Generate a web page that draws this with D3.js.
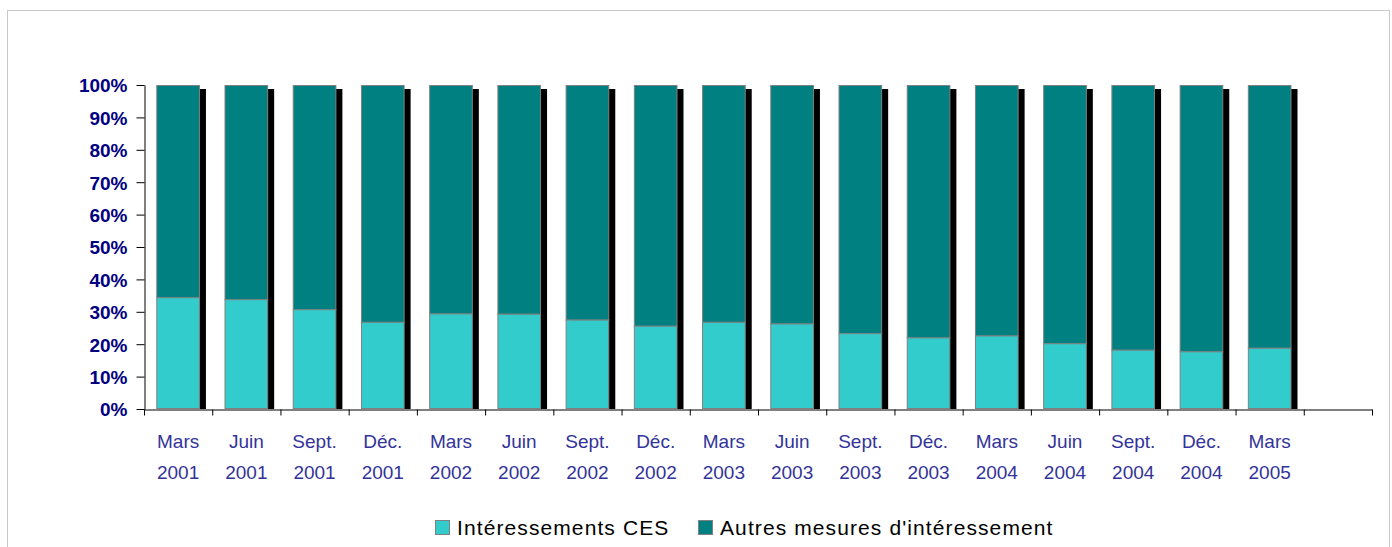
<!DOCTYPE html>
<html>
<head>
<meta charset="utf-8">
<script src="https://cdn.jsdelivr.net/npm/d3@7"></script>
<style>
  body { margin: 0; background: #fff; }
  svg { display: block; font-family: "Liberation Sans", Arial, sans-serif; }
  .y-axis text { fill: #000080; font-weight: bold; font-size: 19px; }
  .axis path, .axis line { stroke: #000; }
  .xlab { fill: #333399; font-size: 19px; }
  .legend text { fill: #000; font-size: 21px; letter-spacing: 1.1px; }
</style>
</head>
<body>
<div id="chart"></div>
<script>
// DATA
var months = ["Mars","Juin","Sept.","Déc.","Mars","Juin","Sept.","Déc.","Mars","Juin","Sept.","Déc.","Mars","Juin","Sept.","Déc.","Mars"]
var years  = ["2001","2001","2001","2001","2002","2002","2002","2002","2003","2003","2003","2003","2004","2004","2004","2004","2005"]
// share of "Intéressements CES" (%)
var ces    = [34.5, 33.9, 30.8, 26.9, 29.5, 29.4, 27.6, 25.7, 26.9, 26.4, 23.4, 22.1, 22.7, 20.3, 18.3, 17.8, 18.9]
// the rest is "Autres mesures d'intéressement"
var autres = ces.map(function(v){ return 100 - v })
var yTicks = [0,10,20,30,40,50,60,70,80,90,100]
var seriesNames = ["Intéressements CES", "Autres mesures d'intéressement"]
var colors = ["#33CCCC", "#008080"]

var W = 1392, H = 547
var margin = {top: 85, left: 144}
var plotRight = 1372, plotBottom = 409

var svg = d3.select("#chart").append("svg")
  .attr("width", W).attr("height", H)

// chart area frame
svg.append("rect")
  .attr("x", 7.5).attr("y", 10.5)
  .attr("width", 1382).attr("height", 560)
  .attr("fill", "none").attr("stroke", "#c8c8c8")

// SCALES (one empty slot after the last quarter)
var slots = d3.range(months.length + 1)
var x = d3.scaleBand().domain(slots).range([margin.left, plotRight]).paddingInner(0.36).paddingOuter(0.18)
var xEdge = d3.scaleLinear().domain([0, slots.length]).range([margin.left, plotRight])
var y = d3.scaleLinear().domain([0, 100]).range([plotBottom, margin.top])

var rows = ces.map(function(v, i){ return {i: i, ces: v, autres: autres[i]} })

var g = svg.append("g")

// shadows
g.selectAll("rect.shadow")
  .data(rows)
  .enter().append("rect")
  .attr("class", "shadow")
  .attr("x", function(d){ return x(d.i) + 6 })
  .attr("y", y(100) + 4)
  .attr("width", x.bandwidth())
  .attr("height", plotBottom - y(100) - 4)
  .attr("fill", "#000")

// dark part (top)
g.selectAll("rect.autres")
  .data(rows)
  .enter().append("rect")
  .attr("class", "autres")
  .attr("x", function(d){ return x(d.i) + 0.5 })
  .attr("y", function(d){ return y(100) + 0.5 })
  .attr("width", x.bandwidth() - 1)
  .attr("height", function(d){ return y(d.ces) - y(100) })
  .attr("fill", colors[1])
  .attr("stroke", "#808080").attr("stroke-width", 1)

// light part (bottom)
g.selectAll("rect.ces")
  .data(rows)
  .enter().append("rect")
  .attr("class", "ces")
  .attr("x", function(d){ return x(d.i) + 0.5 })
  .attr("y", function(d){ return y(d.ces) + 0.5 })
  .attr("width", x.bandwidth() - 1)
  .attr("height", function(d){ return y(0) - y(d.ces) - 1 })
  .attr("fill", colors[0])
  .attr("stroke", "#808080").attr("stroke-width", 1)

// AXES
var yAxis = d3.axisLeft(y)
  .tickValues(yTicks)
  .tickFormat(function(d){ return d + "%" })
  .tickSize(8).tickSizeOuter(0).tickPadding(9)

svg.append("g")
  .attr("class", "axis y-axis")
  .attr("transform", "translate(" + (margin.left + 0.5) + ",0)")
  .call(yAxis)
  .selectAll("text").attr("dy", "0.36em")

var xAxis = d3.axisBottom(xEdge)
  .tickValues(d3.range(slots.length + 1))
  .tickFormat("")
  .tickSize(6).tickSizeOuter(0)

svg.append("g")
  .attr("class", "axis x-axis")
  .attr("transform", "translate(0," + (plotBottom + 0.5) + ")")
  .call(xAxis)

// two-line category labels
var lab = svg.append("g").selectAll("text.xlab")
  .data(rows)
  .enter().append("text")
  .attr("class", "xlab")
  .attr("text-anchor", "middle")
  .attr("x", function(d){ return x(d.i) + x.bandwidth() / 2 })
  .attr("y", 448)

lab.append("tspan").text(function(d){ return months[d.i] })
lab.append("tspan")
  .attr("x", function(d){ return x(d.i) + x.bandwidth() / 2 })
  .attr("dy", 31)
  .text(function(d){ return years[d.i] })

// LEGEND
var legend = svg.append("g").attr("class", "legend")
var lx = [435, 698]
seriesNames.forEach(function(name, k){
  legend.append("rect")
    .attr("x", lx[k] + 0.5).attr("y", 520.5)
    .attr("width", 14).attr("height", 14)
    .attr("fill", colors[k]).attr("stroke", "#808080")
  legend.append("text")
    .attr("x", lx[k] + 22).attr("y", 535)
    .text(name)
})
</script>
</body>
</html>
